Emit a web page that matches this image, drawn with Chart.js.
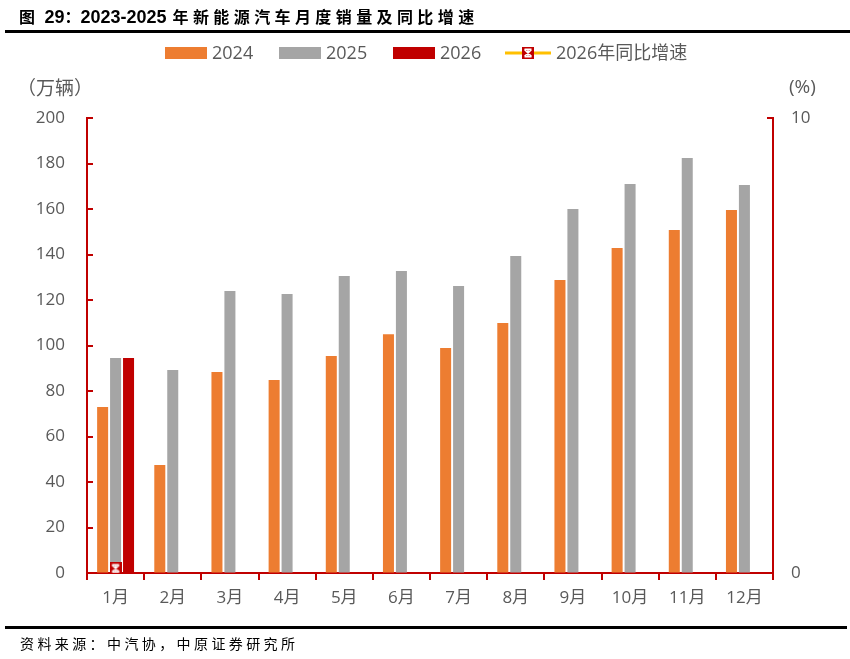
<!DOCTYPE html>
<html>
<head>
<meta charset="utf-8">
<script src="https://cdn.jsdelivr.net/npm/chart.js@4.4.1/dist/chart.umd.min.js"></script>
<style>
  html, body { margin: 0; padding: 0; background: #fff; }
  #wrap { position: relative; width: 850px; height: 659px; overflow: hidden; }
  #chart { position: absolute; left: 0; top: 0; }
  .txt { position: absolute; white-space: nowrap; font-family: "Open Sans", "Noto Sans CJK SC", sans-serif; }
  #title { left: 19px; top: 4px; font-size: 16px; font-weight: bold; color: #000; font-family: "Noto Sans CJK SC", sans-serif; }
  #title .cn { letter-spacing: 4.4px; }
  #title .en { font-family: "Liberation Sans", sans-serif; font-size: 18px; }
  #topline { position: absolute; left: 5px; top: 30px; width: 845px; height: 3px; background: #000; }
  #botline { position: absolute; left: 5px; top: 626px; width: 842px; height: 3px; background: #000; }
  #source { left: 20px; top: 633px; font-size: 14px; letter-spacing: 3.4px; color: #000; font-family: "Noto Sans CJK SC", sans-serif; }
  .unit { font-size: 19px; color: #595959; top: 73px; }
</style>
</head>
<body>
<div id="wrap">
  <canvas id="chart" width="850" height="659"></canvas>
  <div id="title" class="txt"><span class="cn">图</span><span class="en"> 29</span><span class="cn" style="letter-spacing:0">：</span><span class="en">2023-2025</span><span class="cn" style="margin-left:6px">年新能源汽车月度销量及同比增速</span></div>
  <div id="topline"></div>
  <div class="txt unit" style="left:17px;">（万辆）</div>
  <div class="txt unit" style="left:789px;">(%)</div>
  <div id="botline"></div>
  <div id="source" class="txt">资料来源：中汽协，中原证券研究所</div>
</div>
<script>
// data
const months = ['1月', '2月', '3月', '4月', '5月', '6月', '7月', '8月', '9月', '10月', '11月', '12月'];
const sales2024 = [73.0, 47.5, 88.4, 84.8, 95.4, 105.0, 98.9, 109.9, 128.8, 142.9, 150.8, 159.6];
const sales2025 = [94.5, 89.2, 124.0, 122.6, 130.5, 132.7, 126.2, 139.3, 160.0, 171.0, 182.4, 170.5];
const sales2026 = [94.5, null, null, null, null, null, null, null, null, null, null, null];
const yoy2026 = [0.1, null, null, null, null, null, null, null, null, null, null, null];
const leftTicks = [0, 20, 40, 60, 80, 100, 120, 140, 160, 180, 200];
const rightTicks = [0, 10];

const ORANGE = '#ED7D31';
const GRAY = '#A5A5A5';
const DARKRED = '#C00000';
const YELLOW = '#FFC000';
const AXIS = '#C00000';
const LABEL = '#595959';
const FONT = '"Open Sans", "Noto Sans CJK SC", sans-serif';

// red square marker with white cross
function makeMarker(size) {
  const c = document.createElement('canvas');
  c.width = size; c.height = size;
  const g = c.getContext('2d');
  g.fillStyle = DARKRED;
  g.fillRect(0, 0, size, size);
  g.strokeStyle = '#fff';
  g.lineWidth = 1.6;
  g.beginPath();
  g.moveTo(2.5, 2.5); g.lineTo(size - 2.5, size - 2.5);
  g.moveTo(size - 2.5, 2.5); g.lineTo(2.5, size - 2.5);
  g.moveTo(size / 2, 2); g.lineTo(size / 2, size - 2);
  g.moveTo(2.5, 2.2); g.lineTo(size - 2.5, 2.2);
  g.moveTo(2.5, size - 2.2); g.lineTo(size - 2.5, size - 2.2);
  g.stroke();
  return c;
}
const marker = makeMarker(12);

// inward tick marks on both y axes + custom legend
const extras = {
  id: 'extras',
  afterDraw(chart) {
    const ctx = chart.ctx;
    const y = chart.scales.y, y1 = chart.scales.y1;
    ctx.save();
    ctx.strokeStyle = AXIS;
    ctx.lineWidth = 2;
    ctx.beginPath();
    leftTicks.forEach(v => {
      const p = Math.round(y.getPixelForValue(v));
      ctx.moveTo(y.right, p); ctx.lineTo(y.right + 6, p);
    });
    rightTicks.forEach(v => {
      const p = Math.round(y1.getPixelForValue(v));
      ctx.moveTo(y1.left, p); ctx.lineTo(y1.left - 6, p);
    });
    ctx.stroke();

    // legend
    const ly = 53;
    ctx.font = '18px ' + FONT;
    ctx.fillStyle = LABEL;
    ctx.textBaseline = 'middle';
    const items = [
      { x: 165, color: ORANGE, text: '2024' },
      { x: 279, color: GRAY, text: '2025' },
      { x: 393, color: DARKRED, text: '2026' }
    ];
    items.forEach(it => {
      ctx.fillStyle = it.color;
      ctx.fillRect(it.x, ly - 6, 42, 12);
      ctx.fillStyle = LABEL;
      ctx.fillText(it.text, it.x + 47, ly + 1);
    });
    ctx.strokeStyle = YELLOW;
    ctx.lineWidth = 3;
    ctx.beginPath();
    ctx.moveTo(505, ly); ctx.lineTo(551, ly);
    ctx.stroke();
    ctx.drawImage(marker, 522, ly - 6);
    ctx.fillStyle = LABEL;
    ctx.fillText('2026年同比增速', 556, ly + 1);
    ctx.restore();
  }
};

new Chart(document.getElementById('chart'), {
  type: 'bar',
  data: {
    labels: months,
    datasets: [
      { label: '2024', data: sales2024, backgroundColor: ORANGE, yAxisID: 'y', order: 1 },
      { label: '2025', data: sales2025, backgroundColor: GRAY, yAxisID: 'y', order: 1 },
      { label: '2026', data: sales2026, backgroundColor: DARKRED, yAxisID: 'y', order: 1 },
      {
        label: '2026年同比增速', type: 'line', data: yoy2026, yAxisID: 'y1', order: 0,
        borderColor: YELLOW, borderWidth: 3, pointStyle: marker, pointRadius: 6
      }
    ]
  },
  plugins: [extras],
  options: {
    responsive: false,
    animation: false,
    layout: { padding: { top: 118, bottom: 40, left: 0, right: 0 } },
    datasets: { bar: { categoryPercentage: 0.68, barPercentage: 0.85 } },
    plugins: { legend: { display: false }, tooltip: { enabled: false } },
    scales: {
      x: {
        grid: { offset: true, drawOnChartArea: false, drawTicks: true, tickLength: 7, color: AXIS, lineWidth: 2 },
        border: { color: AXIS, width: 2 },
        ticks: { color: LABEL, font: { family: FONT, size: 17 }, padding: 8, maxRotation: 0 },
        afterFit(s) { s.height = 46; }
      },
      y: {
        position: 'left', min: 0, max: 200,
        grid: { drawOnChartArea: false, drawTicks: false },
        border: { color: AXIS, width: 2 },
        ticks: { stepSize: 20, color: LABEL, font: { family: FONT, size: 17 }, padding: 22 },
        afterFit(s) { s.width = 87; }
      },
      y1: {
        position: 'right', min: 0, max: 10,
        grid: { drawOnChartArea: false, drawTicks: false },
        border: { color: AXIS, width: 2 },
        ticks: { stepSize: 10, color: LABEL, font: { family: FONT, size: 17 }, padding: 18 },
        afterFit(s) { s.width = 77; }
      }
    }
  }
});
</script>
</body>
</html>
